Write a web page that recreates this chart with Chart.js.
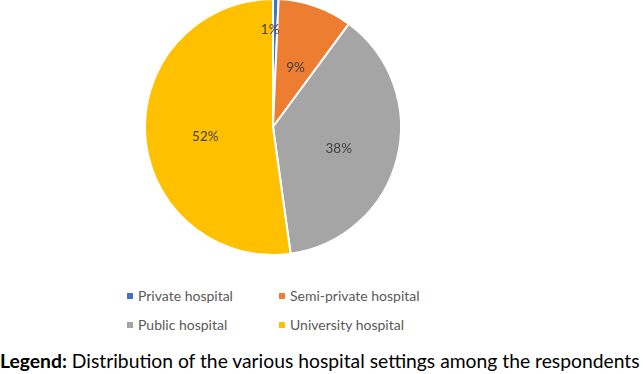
<!DOCTYPE html>
<html>
<head>
<meta charset="utf-8">
<script src="https://cdn.jsdelivr.net/npm/chart.js@4/dist/chart.umd.min.js"></script>
<style>
  html, body { margin: 0; padding: 0; background: #fff; }
  #wrap { position: relative; width: 643px; height: 374px; overflow: hidden; font-family: Lato, "Open Sans", sans-serif; }
  #chartBox { position: absolute; left: 0; top: -2px; width: 643px; height: 258px; }
  .leg { position: absolute; font-size: 14px; line-height: 14px; color: #595959; white-space: nowrap; }
  .mk { position: absolute; width: 6px; height: 6px; }
  #caption { position: absolute; left: 0; white-space: nowrap; color: #000; line-height: 1; }
</style>
</head>
<body>
<div id="wrap">
  <div id="chartBox"><canvas id="c"></canvas></div>
  <div id="legend"></div>
  <div id="caption"><b>Legend:</b> Distribution of the various hospital settings among the respondents</div>
</div>
<script>
const categories = ["Private hospital", "Semi-private hospital", "Public hospital", "University hospital"];
const shares = [0.7, 9.4, 37.7, 52.2];
const colors = ["#4472C4", "#ED7D31", "#A5A5A5", "#FFC000"];

const labelPlugin = {
  id: 'sliceLabels',
  afterDatasetsDraw(chart) {
    const ctx = chart.ctx;
    const meta = chart.getDatasetMeta(0);
    const data = chart.data.datasets[0].data;
    const total = data.reduce((a, b) => a + b, 0);
    ctx.save();
    ctx.font = '13.5px Lato, "Open Sans", sans-serif';
    ctx.fillStyle = '#404040';
    ctx.textAlign = 'center';
    ctx.textBaseline = 'middle';
    meta.data.forEach((arc, i) => {
      const p = arc.getProps(['x', 'y', 'startAngle', 'endAngle', 'outerRadius'], true);
      const frac = data[i] / total;
      const mid = (p.startAngle + p.endAngle) / 2;
      const small = frac < 0.03;
      const k = small ? 0.76 : 0.53;
      const tx = p.x + Math.cos(mid) * p.outerRadius * k - (small ? 5 : 0);
      const ty = p.y + Math.sin(mid) * p.outerRadius * k + (small ? 0 : 5);
      ctx.fillText(Math.round(frac * 100) + '%', tx, ty);
    });
    ctx.restore();
  }
};

new Chart(document.getElementById('c'), {
  type: 'pie',
  data: {
    labels: categories,
    datasets: [{
      data: shares,
      backgroundColor: colors,
      borderColor: '#ffffff',
      borderWidth: 2
    }]
  },
  options: {
    responsive: true,
    maintainAspectRatio: false,
    animation: false,
    layout: { padding: { left: 144, right: 241, top: 0, bottom: 0 } },
    plugins: { legend: { display: false }, tooltip: { enabled: false } }
  },
  plugins: [labelPlugin]
});

// HTML legend (2 columns x 2 rows)
const legend = document.getElementById('legend');
const colX = [127, 279];
const rowBase = [301, 330];
categories.forEach((name, i) => {
  const col = i % 2, row = Math.floor(i / 2);
  const mk = document.createElement('div');
  mk.className = 'mk';
  mk.style.background = colors[i];
  mk.style.left = colX[col] + 'px';
  mk.style.top = (rowBase[row] - 8) + 'px';
  legend.appendChild(mk);
  const t = document.createElement('div');
  t.className = 'leg';
  t.textContent = name;
  t.style.left = (colX[col] + 11) + 'px';
  t.style.top = (rowBase[row] - 12.4) + 'px';
  legend.appendChild(t);
});

// Caption: fit width and baseline
const cap = document.getElementById('caption');
let fs = 19;
cap.style.fontSize = fs + 'px';
const w = cap.getBoundingClientRect().width;
fs = fs * 640 / w;
cap.style.fontSize = fs + 'px';
cap.style.top = (368 - 0.887 * fs) + 'px';
</script>
</body>
</html>
